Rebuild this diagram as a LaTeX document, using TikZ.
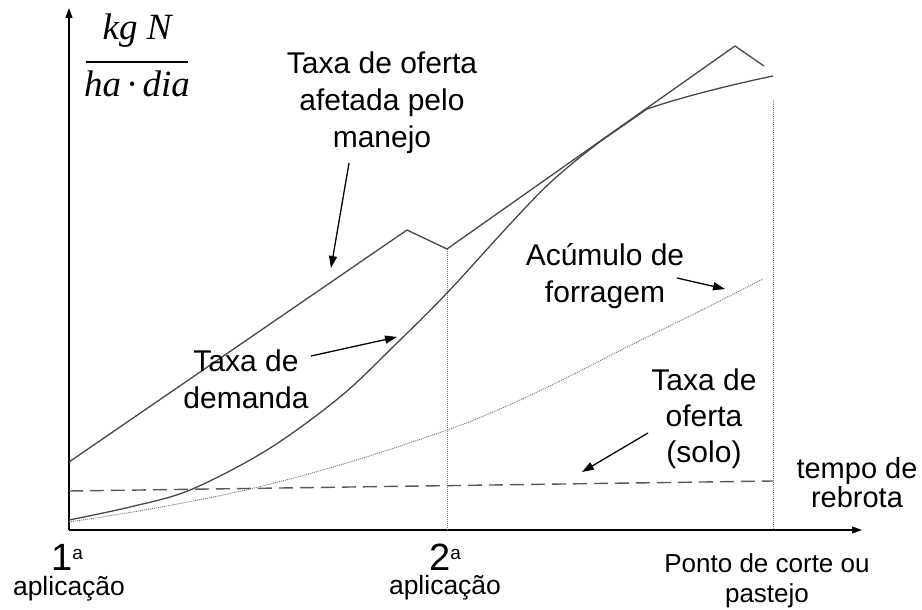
\documentclass[tikz,border=0pt]{standalone}
\usepackage{fontspec}
\setmainfont{Liberation Sans}
\newfontfamily\serifit{Liberation Serif}[ItalicFont={Liberation Serif Italic}]
\usetikzlibrary{arrows.meta}
\begin{document}
\begin{tikzpicture}[x=1pt,y=-1pt,
  curve/.style={draw=black!72, line width=1.3pt, line join=round},
  axisline/.style={draw=black, line width=1.2pt, -{Triangle[length=10pt,width=7pt]}},
  guide/.style={draw=black!50, line width=0.8pt, dash pattern=on 1pt off 1pt},
  forage/.style={draw=black!55, line width=0.9pt, dash pattern=on 1pt off 1pt},
  soil/.style={draw=black!65, line width=1.4pt, dash pattern=on 14pt off 7pt},
  arr/.style={draw=black, line width=1.3pt, -{Triangle[length=12pt,width=8pt]}},
  lbl/.style={inner sep=0pt, anchor=base, align=center, font=\fontsize{30}{37}\selectfont},
  fracpart/.style={inner sep=0pt, anchor=base, font=\serifit\itshape\fontsize{37}{37}\selectfont},
  tick/.style={inner sep=0pt, anchor=base west, font=\fontsize{38}{38}\selectfont},
  appl/.style={inner sep=0pt, anchor=base, font=\fontsize{26.5}{26.5}\selectfont}
]
\useasboundingbox (0,0) rectangle (922,610);

% axes
\coordinate (O) at (69,530);
\coordinate (ytop) at (69,8);
\coordinate (xend) at (862,530);
\draw[axisline] (O) -- (ytop);
\draw[axisline] (O) -- (xend);

% y-axis unit
\node[fracpart] (num) at (137,40) {kg N};
\node[fracpart] (den) at (137,97) {ha\,·\,dia};
\draw[line width=1.3pt] (86,62) -- (188,62);

% guide lines
\draw[guide] (447,249) -- (447,530);
\draw[guide] (773,100) -- (773,530);

% soil supply rate (dashed)
\coordinate (s0) at (69,491);
\coordinate (s1) at (773,481);
\draw[soil] (s0) -- (s1);

% forage accumulation (dotted)
\draw[forage] plot[smooth, tension=0.6] coordinates
  {(69,522) (150,509) (250,489) (350,462) (447,430) (500,409) (560,381) (633,344) (700,311) (763,279)};

% supply rate affected by management
\draw[curve] (69,462) -- (407,230) -- (447,249) -- (735,46) -- (764,66);

% demand rate
\draw[curve] plot[smooth, tension=0.55] coordinates
  {(69,520) (130,507) (190,490) (267,450) (340,397) (397,343) (447,293) (500,235) (530,202.8) (550,182.8) (575,161.2) (600,141.7)}
  -- (647,109) .. controls (682,97) and (730,85) .. (773,76);

% labels (anchor = baseline of the last line)
\node[lbl] (tom) at (382,147) {Taxa de oferta\\afetada pelo\\manejo};
\coordinate (tomA) at (349,163);
\coordinate (tomB) at (331,268);
\draw[arr] (tomA) -- (tomB);

\node[lbl] (dem) at (246,408) {Taxa de\\demanda};
\coordinate (demA) at (311,356);
\coordinate (demB) at (397,337);
\draw[arr] (demA) -- (demB);

\node[lbl] (acu) at (605,302) {Acúmulo de\\forragem};
\coordinate (acuA) at (677,278);
\coordinate (acuB) at (725,289);
\draw[arr] (acuA) -- (acuB);

\node[lbl, font=\fontsize{30}{36}\selectfont] (sol) at (704,462) {Taxa de\\oferta\\(solo)};
\coordinate (solA) at (648,433);
\coordinate (solB) at (582,472);
\draw[arr] (solA) -- (solB);

\node[lbl, font=\fontsize{29}{27}\selectfont] (tem) at (857,507) {tempo de\\rebrota};

\node[lbl, font=\fontsize{26}{30}\selectfont] (pon) at (767,602) {Ponto de corte ou\\pastejo};

\node[tick] (n1) at (51,570) {1\raisebox{11pt}{\fontsize{19}{19}\selectfont a}};
\node[appl] (ap1) at (69,595) {aplicação};
\node[tick] (n2) at (429,570) {2\raisebox{11pt}{\fontsize{19}{19}\selectfont a}};
\node[appl] (ap2) at (445,594) {aplicação};
\end{tikzpicture}
\end{document}
